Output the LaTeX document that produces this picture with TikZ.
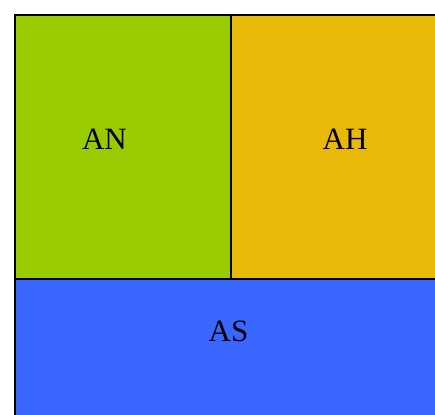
\documentclass[tikz,border=0pt]{standalone}
\usepackage{fontspec}
\setmainfont{Liberation Serif}
\usepackage{tikz}
\usetikzlibrary{positioning}

\definecolor{cellgreen}{RGB}{153,204,0}
\definecolor{cellorange}{RGB}{233,185,10}
\definecolor{cellblue}{RGB}{56,102,255}

\begin{document}
\begin{tikzpicture}[x=1pt, y=1pt,
        cell/.style={draw, line width=1.6pt, anchor=north west, inner sep=0pt},
        lbl/.style={font=\fontsize{31}{36}\selectfont, inner sep=0pt},
    ]
    \useasboundingbox (0,0) rectangle (435,-414);
    \clip (0,0) rectangle (435,-414);

    % Top row
    \node[cell, fill=cellgreen, minimum width=216pt, minimum height=264pt] (an) at (14,-14) {};
    \node[cell, fill=cellorange, minimum width=230pt, minimum height=264pt] (ah) at (230,-14) {};

    % Bottom row
    \node[cell, fill=cellblue, minimum width=460pt, minimum height=160pt] (as) at (14,-278) {};

    % Labels
    \node[lbl] (anlbl) at (104.5,-139) {AN};
    \node[lbl] (ahlbl) at (345,-139) {AH};
    \node[lbl] (aslbl) at (228.5,-331) {AS};
\end{tikzpicture}
\end{document}
